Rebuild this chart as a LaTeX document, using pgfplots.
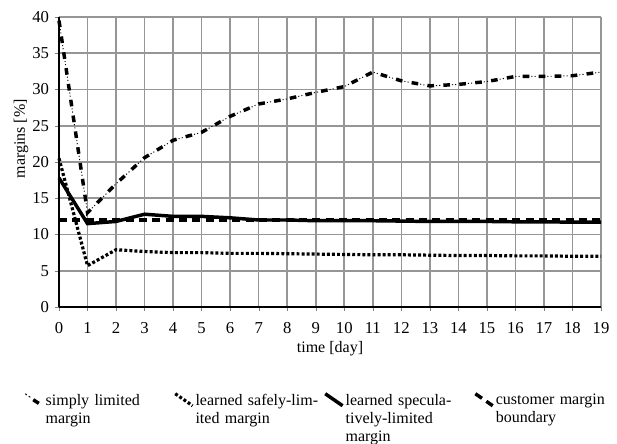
\documentclass[border=0pt]{standalone}
\usepackage{pgfplots}
\pgfplotsset{compat=1.18}
\usepackage{fontspec}
\setmainfont{Liberation Serif}
\definecolor{gridgray}{RGB}{150,150,150}
\begin{document}
\begin{tikzpicture}[font=\fontsize{12}{13.5}\selectfont]
\begin{axis}[
  scale only axis,
  width=406.5pt, height=217.5pt,
  xmin=0, xmax=19, ymin=0, ymax=40,
  xtick={0,1,...,19}, ytick={0,5,...,40},
  axis x line=bottom, axis y line=left,
  axis line style={-, black, line width=0.9pt},
  xmajorgrids=true, ymajorgrids=true,
  grid style={solid, draw=gridgray, line width=1.2pt},
  major grid style={solid, draw=gridgray, line width=1.2pt},
  tick align=outside, major tick length=3pt,
  /pgf/number format/assume math mode=true,
  xlabel={time [day]},
  ylabel={margins [\%]},
  xlabel style={yshift=1pt},
  ylabel style={at={(axis description cs:-0.048,0.58)}, anchor=south},
  ticklabel style={font=\fontsize{12.5}{14}\selectfont},
  xticklabel style={yshift=-5pt},
  yticklabel style={xshift=-1pt},
  legend columns=4,
  legend style={draw=none, fill=none, overlay, at={(-0.071,-0.283)}, anchor=north west,
    cells={anchor=north west},
    /tikz/every even column/.append style={column sep=2pt},
    nodes={text width=93pt, align=left, inner sep=1pt}},
  legend image code/.code={\draw[#1] (0pt,-1pt) -- (13pt,-10pt);},
  clip=false,
]
% simply limited margin: thin dots part
\addplot[forget plot, black, line width=0.7pt, dash pattern=on 0pt off 6.5pt on 0.8pt off 1.6pt on 0.8pt off 2.3pt] coordinates {
(0,39.5) (1,13.0) (2,17.0) (3,20.6) (4,23.0) (5,24.1) (6,26.3) (7,28.0) (8,28.7) (9,29.6) (10,30.4) (11,32.4) (12,31.2) (13,30.5) (14,30.7) (15,31.1) (16,31.8) (17,31.8) (18,31.9) (19,32.4)
};
\addplot[black, line width=2.6pt, dash pattern=on 5pt off 7pt,
  legend image code/.code={
    \draw[black, line width=2.6pt] (6pt,-5.5pt) -- (13pt,-10pt);
    \draw[black, line width=0.7pt] (0pt,-1pt) -- (1.2pt,-1.9pt);
    \draw[black, line width=0.7pt] (2.6pt,-2.8pt) -- (3.8pt,-3.7pt);
  }] coordinates {
(0,39.5) (1,13.0) (2,17.0) (3,20.6) (4,23.0) (5,24.1) (6,26.3) (7,28.0) (8,28.7) (9,29.6) (10,30.4) (11,32.4) (12,31.2) (13,30.5) (14,30.7) (15,31.1) (16,31.8) (17,31.8) (18,31.9) (19,32.4)
};
\addlegendentry{simply limited\\margin}
% learned safely-limited margin
\addplot[black, line width=2.4pt, dash pattern=on 2.2pt off 1.6pt] coordinates {
(0,20.5) (1,5.7) (2,7.9) (3,7.65) (4,7.5) (5,7.5) (6,7.4) (7,7.4) (8,7.35) (9,7.3) (10,7.25) (11,7.2) (12,7.2) (13,7.15) (14,7.1) (15,7.1) (16,7.05) (17,7.05) (18,7.0) (19,7.0)
};
\addlegendentry{learned safely-lim-\\ited margin}
% learned speculatively-limited margin
\addplot[black, line width=2.6pt] coordinates {
(0,17.8) (1,11.5) (2,11.8) (3,12.8) (4,12.5) (5,12.5) (6,12.3) (7,12.0) (8,12.0) (9,11.9) (10,11.9) (11,11.9) (12,11.85) (13,11.8) (14,11.8) (15,11.8) (16,11.75) (17,11.75) (18,11.7) (19,11.7)
};
\addlegendentry{learned specula-\\tively-limited\\margin}
% customer margin boundary
\addplot[black, line width=2.6pt, dash pattern=on 6pt off 4pt] coordinates {
(0,12) (19,12)
};
\addlegendentry{customer margin\\boundary}
\coordinate (bl) at (rel axis cs:0,0);
\coordinate (tr) at (rel axis cs:1,1);
\end{axis}
\path (bl) ++(-44.25pt,-102pt) coordinate (L);
\path (tr) ++(12pt,12.75pt) coordinate (R);
\path (L) rectangle (R);
\end{tikzpicture}
\end{document}
